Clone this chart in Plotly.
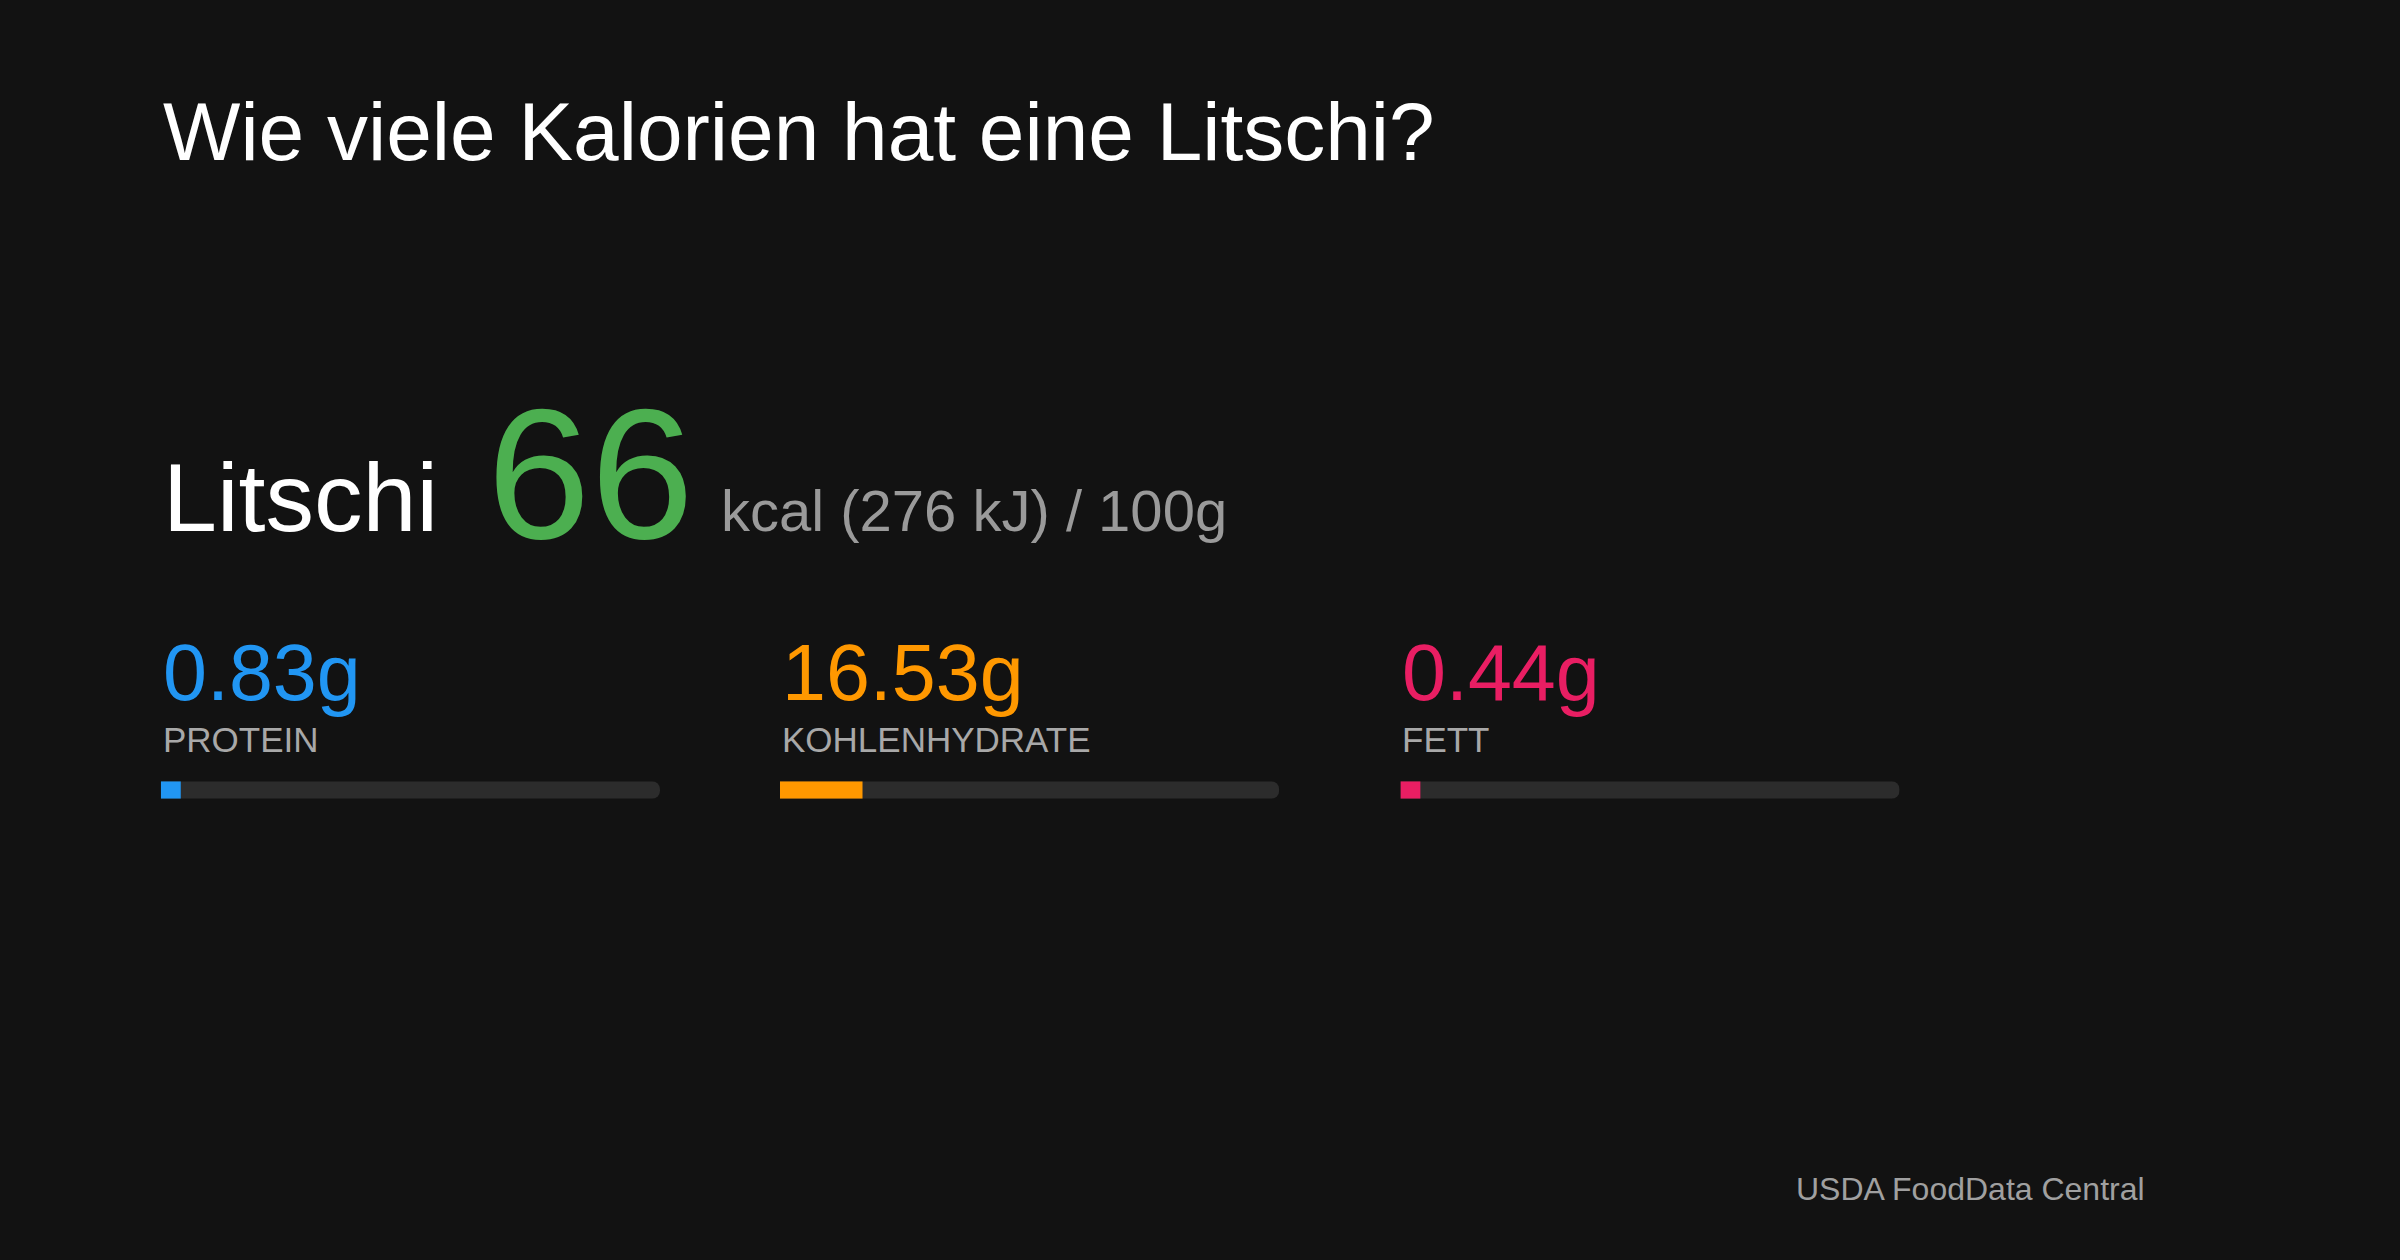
import plotly.graph_objects as go

BG = "#121212"
TRACK = "#2c2c2c"

title = "Wie viele Kalorien hat eine Litschi?"
food = "Litschi"
kcal = 66
kj = 276
nutrients = ["PROTEIN", "KOHLENHYDRATE", "FETT"]
grams = [0.83, 16.53, 0.44]
colors = ["#2196f3", "#ff9800", "#e91e63"]
source = "USDA FoodData Central"

FONT = "Liberation Sans"

# bar column positions (paper fractions)
cols = [(0.067, 0.275), (0.325, 0.533), (0.5835, 0.7915)]
bar_y = (0.366, 0.380)

fig = go.Figure()
annotations = []
for i, (name, g, c) in enumerate(zip(nutrients, grams, colors)):
    ax = "" if i == 0 else str(i + 1)
    # track, then fill (with a small minimum width so tiny values stay visible)
    fig.add_trace(go.Bar(x=[100], y=[0], orientation="h", marker_color=TRACK, marker_line_width=0,
                         xaxis="x" + ax, yaxis="y" + ax, width=1, hoverinfo="skip"))
    fig.add_trace(go.Bar(x=[max(g, 4)], y=[0], orientation="h", marker_color=c, marker_line_width=0,
                         xaxis="x" + ax, yaxis="y" + ax, width=1, hoverinfo="skip"))
    fig.layout["xaxis" + ax] = dict(domain=cols[i], range=[0, 100], visible=False, fixedrange=True)
    fig.layout["yaxis" + ax] = dict(domain=bar_y, range=[-0.5, 0.5], visible=False, fixedrange=True)
    annotations.append(dict(text=f"{g:.2f}g", x=cols[i][0], y=0.466, font=dict(size=79, color=c)))
    annotations.append(dict(text=name, x=cols[i][0], y=0.413, font=dict(size=35, color="#a8a8a8")))

annotations += [
    dict(text=title, x=0.067, y=0.896, font=dict(size=82, color="white")),
    dict(text=food, x=0.067, y=0.605, font=dict(size=97, color="white")),
    dict(text=str(kcal), x=0.202, y=0.624, font=dict(size=186, color="#4caf50")),
    dict(text=f"kcal ({kj} kJ) / 100g", x=0.2997, y=0.595, font=dict(size=58, color="#9a9a9a")),
    dict(text=source, x=0.8947, y=0.056, xanchor="right", font=dict(size=32, color="#a0a0a0")),
]
for a in annotations:
    a.setdefault("xanchor", "left")
    a.update(xref="paper", yref="paper", yanchor="middle", showarrow=False)

fig.update_layout(
    width=2400, height=1260,
    margin=dict(l=0, r=0, t=0, b=0),
    paper_bgcolor=BG, plot_bgcolor=BG,
    barmode="overlay", barcornerradius="50%",
    showlegend=False,
    font=dict(family=FONT),
    annotations=annotations,
)
fig.write_html(
    "out.html",
    config={"displayModeBar": False},
    post_script="document.body.style.margin='0';document.body.style.background='#121212';",
)
